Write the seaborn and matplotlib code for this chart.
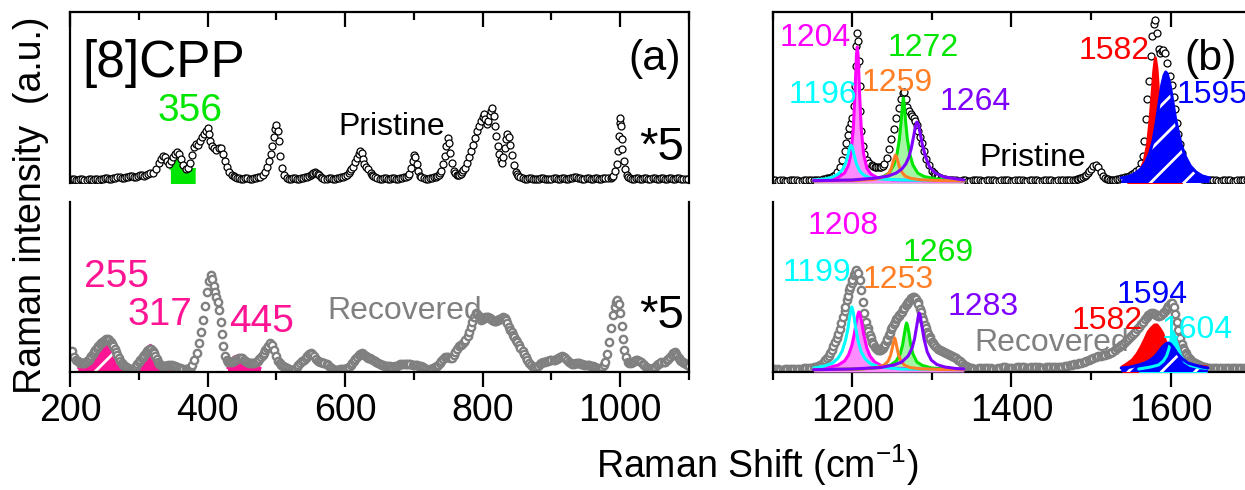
import matplotlib
matplotlib.use('Agg')
import matplotlib.pyplot as plt
import seaborn as sns

# ---------------- data (Raman shift, intensity in arbitrary units) ----------------
pristine_low = [(200,1),(203,2),(206,2),(209,1),(212,1),(215,2),(218,2),(221,1),(224,1),(227,2),(230,2),(233,1),
    (236,2),(239,2),(242,1),(245,2),(248,2),(251,3),(254,3),(257,2),(260,2),(263,3),(266,3),(269,4),
    (272,4),(275,3),(278,3),(281,4),(284,4),(287,5),(290,5),(293,4),(296,4),(299,5),(302,6),(305,6),(308,5),(311,6),
    (314,7),(317,8),(320,8),(325,12),(329,18),(332,22),(335,25),
    (338,24),(341,20),(344,17),(347,20),(350,24),(353,27),(356,29),(359,27),(362,22),(365,16),(368,12),(371,13),
    (374,18),(377,26),(380,34),(383,37),(386,36),(389,40),(392,44),(395,47),(398,50),(400,53),(402,47),(404,40),
    (407,35),(410,33),(413,31),(416,33),(419,33),(422,27),(425,20),(428,14),(431,9),(435,6),(438,5),(440,4),(443,3),(446,3),
    (449,2),(452,2),(455,3),(458,3),(461,2),(464,2),(467,3),(470,3),(473,4),(476,4),(480,6),(484,9),(487,14),(490,20),(492,27),(494,35),(496,44),(498,52),
    (500,56),(502,50),(504,40),(506,25),(508,13),(511,6),(515,3),(518,2),(521,2),(524,3),(527,3),(530,2),(533,2),(536,3),(539,3),(542,4),(545,4),(548,5),(550,6),
    (552,7),(554,8),(556,9),(558,8),(560,7),(562,6),(565,4),(567,3),(570,2),(573,2),(576,3),(579,3),(582,2),(585,2),(588,3),(591,3),(594,4),(597,4),(600,5),(603,6),(605,8),(607,10),(609,12),(611,14),(614,19),
    (617,23),(620,27),(622,30),(624,28),(626,22),(628,17),(631,14),(634,12),(637,8),(639,6),(641,5),(644,4),(647,3),(650,2),(653,2),
    (656,3),(659,3),(662,2),(665,2),(668,3),(671,3),(674,2),(677,2),(680,3),(683,3),(686,4),(689,4),(691,5),(693,7),(696,13),(698,20),(700,26),(702,24),(704,17),(706,10),
    (709,5),(711,4),(714,3),(717,2),(720,2),(723,3),(726,3),(729,4),(732,4),(734,5),(736,6),(738,8),(740,10),(743,17),(745,25),(747,35),(749,43),(751,38),
    (753,28),(755,18),(758,10),(760,8),(762,6),(764,6),(766,6),(768,7),(770,9),(772,11),(774,13),(777,18),(780,24),(783,30),(786,36),(789,43),
    (792,50),(795,55),(798,60),(800,64),(802,67),(804,62),(806,57),(808,60),(810,66),(812,70),(814,73),(816,65),
    (818,55),(820,45),(822,35),(824,27),(826,21),(828,18),(830,24),(832,33),(834,42),(836,47),(838,44),(840,36),
    (842,26),(845,16),(848,9),(850,7),(852,5),(855,4),(858,3),(861,2),(864,2),(867,3),(870,3),(873,2),(876,2),(879,2),(882,2),(885,3),(888,3),(891,2),(894,2),(897,2),(900,2),(903,3),(906,3),
    (909,2),(912,2),(915,3),(918,3),(921,2),(924,2),(927,3),(930,3),(933,4),(936,4),(939,3),(942,3),(945,2),(948,2),(951,3),(954,3),(957,2),(960,2),(963,3),(966,3),(969,2),(972,2),(975,3),(978,3),(982,3),
    (986,3),(988,4),(990,5),(993,10),(995,17),(997,30),(998,45),(999,58),(1000,63),(1001,55),(1002,42),(1003,32),
    (1005,20),(1007,12),(1010,6),(1012,4),(1014,3),(1017,2),(1020,2),(1023,3),(1026,3),(1029,2),(1032,2),(1035,3),(1038,3),(1041,2),(1044,2),(1047,3),(1050,3),(1053,2),(1056,2),
    (1059,3),(1062,3),(1065,2),(1068,2),(1071,3),(1074,3),(1077,2),(1080,2),(1083,3),(1086,3),(1089,2),(1092,2),(1095,2),(1098,2)]

recovered_low = [(200,15),(203,19),(206,13),(209,10),(211,9),(213,8),(215,7),(217,7),(219,7),(221,7),(223,8),(225,9),(227,10),(229,12),(231,14),(233,16),(235,18),(237,20),
    (239,22),(241,24),(243,26),(245,27),(247,28),(249,29),(251,30),(253,31),(255,31),(257,30),(259,28),(261,26),(263,24),(265,21),(267,18),(269,15),(271,12),(273,9),(275,7),(277,5),(280,4),(282,3),(285,2),(287,1),
    (290,1),(292,1),(294,2),(296,4),(298,6),(300,8),(302,10),(304,12),(306,13),(308,15),(310,17),(312,19),(314,20),(316,21),(318,21),(320,19),(322,17),(324,14),(326,11),(328,8),(330,6),(332,5),(334,4),(336,4),
    (338,4),(340,4),(343,5),(345,5),(348,5),(350,4),(353,4),(355,3),(358,2),(360,2),(363,1),(365,1),(368,1),(370,1),(372,1),(374,2),(376,3),(378,5),(381,10),(384,17),(387,27),(390,38),
    (393,50),(396,64),(399,78),(402,89),(405,95),(407,91),(409,84),(411,78),(413,73),(415,68),(417,60),(419,48),
    (421,36),(423,24),(426,14),(428,10),(430,8),(433,8),(435,8),(438,9),(440,10),(443,11),(445,12),(448,12),(450,12),(453,10),(455,9),(458,8),(460,7),(463,7),(465,7),(468,7),(470,8),(473,9),
    (475,11),(478,13),(480,15),(482,17),(484,20),(486,22),(488,24),(491,27),(494,25),(497,20),(500,14),(503,9),(505,7),(507,5),(510,4),(512,3),(515,2),(518,1),
    (521,0),(524,0),(527,1),(530,3),(532,5),(535,7),(538,9),(540,10),(543,12),(545,14),(548,16),(550,17),(552,16),(555,14),(558,11),(560,9),(563,8),(565,8),(568,7),(570,7),(573,6),(575,5),(578,3),(580,2),(583,1),(585,0),
    (588,0),(590,0),(593,1),(595,1),(598,1),(600,1),(603,2),(605,3),(608,5),(610,7),(613,9),(615,11),(618,13),(620,15),(622,16),(624,17),(626,16),(628,15),(630,14),(632,13),(634,12),(636,12),(638,11),(640,10),
    (643,9),(645,8),(648,7),(650,6),(653,5),(655,5),(658,4),(660,4),(663,4),(665,4),(668,3),(670,3),(673,4),(675,4),(678,5),(680,6),(683,6),(685,6),(688,6),(690,6),(693,6),(695,6),(698,5),(700,5),(703,5),(705,5),
    (708,4),(710,4),(713,3),(715,2),(718,1),(720,0),(723,1),(725,1),(728,2),(730,3),(733,4),(735,5),(738,7),(740,9),(743,11),(745,13),(748,13),(750,13),(753,12),(755,12),(758,15),(760,18),(763,21),(765,24),
    (768,25),(770,26),(773,28),(775,30),(778,34),(780,38),(783,43),(785,48),(788,53),(790,57),(792,56),(794,54),(796,52),(798,50),(800,51),(802,52),(804,53),(806,53),(808,53),(810,52),(812,51),(814,50),(816,49),(818,49),
    (820,49),(822,50),(824,51),(826,51),(828,52),(830,53),(832,52),(834,50),(836,47),(838,43),(840,40),(842,38),(844,35),(846,33),(848,30),(850,28),(853,25),(855,22),(858,19),(860,16),(863,13),(865,10),(868,7),(870,5),
    (873,3),(875,2),(878,3),(880,4),(883,6),(885,7),(888,8),(890,8),(893,9),(895,9),(898,10),(900,10),(903,10),(905,10),(908,11),(910,12),(913,13),(915,14),(918,13),(920,12),(923,10),(925,8),(928,7),(930,6),
    (933,6),(935,7),(938,7),(940,7),(943,6),(945,6),(948,5),(950,5),(953,5),(955,5),(958,4),(960,4),(963,3),(965,2),(968,1),(970,1),(972,2),(974,3),(976,5),(978,8),(981,16),(984,28),(987,42),
    (990,55),(992,63),(994,68),(996,70),(998,66),(1000,57),(1002,44),(1004,31),(1006,20),(1008,13),(1011,8),
    (1013,7),(1015,7),(1018,8),(1020,9),(1023,10),(1025,10),(1028,9),(1030,8),(1033,6),(1035,5),(1038,3),(1040,2),(1043,1),(1045,1),(1048,2),(1050,3),(1053,5),(1055,6),(1058,7),(1060,8),(1063,8),(1065,8),
    (1068,10),(1070,11),(1073,13),(1075,15),(1077,17),(1079,18),(1081,16),(1083,14),(1085,12),(1087,10),(1089,9),(1091,8),(1093,7),(1095,6),(1098,5),(1100,4)]

pristine_high = [(1100,1),(1103,1),(1106,0),(1109,1),(1112,1),(1115,0),(1118,0),(1121,1),(1124,1),(1127,1),(1130,1),(1133,0),(1136,0),(1139,1),(1142,1),(1145,1),(1148,1),(1151,1),(1154,1),(1157,1),
    (1160,1),(1163,2),(1165,2),(1168,3),(1170,3),(1172,3),(1174,4),(1176,5),(1178,6),(1181,9),(1184,14),(1187,21),(1190,30),(1192,38),(1194,46),
    (1196,53),(1198,58),(1200,63),(1202,75),(1203,95),(1204,115),(1205,135),(1206,148),(1207,140),(1208,120),
    (1209,95),(1210,70),(1211,50),(1213,35),(1215,27),(1218,21),(1221,18),(1224,16),(1226,15),(1228,14),(1230,14),(1232,14),(1234,14),
    (1236,14),(1238,15),(1240,17),(1243,23),(1246,32),(1249,42),(1252,52),(1255,63),(1258,73),(1261,82),(1263,88),
    (1265,89),(1267,82),(1269,74),(1271,70),(1273,67),(1275,65),(1277,63),(1279,60),(1281,56),(1283,50),
    (1285,44),(1287,38),(1290,30),(1293,22),(1296,16),(1300,10),(1302,8),(1304,6),(1306,5),(1308,4),(1311,3),(1313,2),(1316,2),(1318,1),(1321,1),(1324,1),(1327,1),
    (1330,1),(1333,0),(1336,0),(1339,1),(1342,1),(1345,0),(1348,0),(1351,1),(1354,1),(1357,1),(1360,1),(1363,0),(1366,0),(1369,1),(1372,1),(1375,1),(1378,1),(1381,0),(1384,0),(1387,1),(1390,1),(1393,1),(1396,1),
    (1399,0),(1402,0),(1405,1),(1408,1),(1411,1),(1414,1),(1417,0),(1420,0),(1423,1),(1426,1),(1429,1),(1432,1),(1435,0),(1438,0),(1441,1),(1444,1),(1447,1),(1450,1),(1453,0),(1456,0),(1459,1),(1462,1),(1465,1),(1468,1),
    (1471,1),(1474,1),(1477,1),(1480,1),(1482,2),(1484,2),(1486,3),(1488,3),(1490,4),(1492,5),(1494,6),(1496,8),(1498,10),(1500,12),(1503,15),(1506,16),(1509,14),(1512,9),
    (1515,5),(1518,3),(1520,2),(1522,2),(1524,1),(1526,1),(1528,1),(1530,1),(1533,2),(1535,2),(1538,3),(1540,3),(1543,4),(1545,4),(1548,5),(1550,6),(1552,7),(1554,8),(1557,10),
    (1560,12),(1563,18),(1565,25),(1567,40),(1569,62),(1571,82),(1573,100),(1575,125),(1577,145),(1579,157),
    (1581,161),(1583,148),(1585,132),(1587,128),(1589,130),(1591,131),(1593,128),(1596,118),(1599,105),
    (1602,96),(1604,84),(1606,72),(1608,58),(1610,47),(1612,37),(1614,28),(1617,19),(1620,14),(1622,11),(1625,8),(1627,6),
    (1630,5),(1633,4),(1636,3),(1639,2),(1642,2),(1645,1),(1648,1),(1651,1),(1654,1),(1657,1),(1660,0),(1663,0),(1666,1),(1669,1),(1672,1),(1675,1),(1678,0),(1681,0),(1684,1),(1687,1),(1690,1),(1693,1),(1696,1)]

recovered_high = [(1100,1),(1103,1),(1106,1),(1109,0),(1112,0),(1115,1),(1118,1),(1121,1),(1124,1),(1127,1),(1130,1),(1133,1),(1136,1),(1139,2),(1142,2),(1145,2),(1148,2),(1151,3),(1154,3),
    (1157,4),(1159,5),(1162,6),(1164,8),(1166,10),(1168,12),(1170,14),(1172,17),(1174,20),(1176,24),(1178,28),(1180,32),(1182,36),(1184,41),(1186,47),(1188,53),(1190,59),(1191,63),(1193,70),(1194,74),(1196,80),(1197,83),
    (1199,87),(1200,90),(1202,95),(1203,97),(1205,100),(1207,97),(1209,90),(1211,80),(1213,68),(1215,57),(1217,48),(1219,42),(1220,39),(1222,35),
    (1223,32),(1225,28),(1226,26),(1228,23),(1229,22),(1231,21),(1232,20),(1234,20),(1235,20),(1237,21),(1238,22),(1240,24),(1241,26),(1243,29),(1244,31),(1246,35),(1247,37),(1249,41),(1250,43),
    (1252,46),(1253,48),(1255,51),(1256,52),(1258,54),(1259,55),(1261,57),(1262,58),(1264,61),(1265,62),(1267,65),(1268,66),(1270,68),(1271,69),(1273,71),(1274,72),(1276,73),(1277,73),(1279,72),(1280,71),
    (1282,68),(1283,66),(1285,61),(1286,58),(1288,53),(1289,50),(1291,45),(1292,42),(1294,38),(1295,36),(1297,33),(1298,31),(1300,28),(1301,27),(1303,25),(1305,23),(1308,21),(1310,20),(1313,19),(1315,18),
    (1318,17),(1320,16),(1323,15),(1325,14),(1328,13),(1330,12),(1333,10),(1335,9),(1338,7),(1340,5),(1343,4),(1345,3),(1348,2),(1350,2),(1353,1),(1356,1),(1359,2),(1362,2),(1365,2),(1368,2),(1371,2),(1374,2),
    (1377,1),(1380,1),(1383,2),(1386,2),(1389,3),(1392,3),(1395,2),(1398,2),(1401,2),(1404,2),(1407,3),(1410,3),(1413,3),(1416,3),(1419,2),(1422,2),(1425,3),(1428,3),(1431,3),(1434,3),(1437,2),(1440,2),
    (1443,3),(1446,3),(1449,3),(1452,3),(1455,3),(1458,3),(1461,3),(1464,3),(1467,4),(1470,4),(1473,5),(1476,5),(1479,6),(1482,6),(1485,7),(1488,7),(1491,8),(1494,9),(1497,10),(1500,11),(1503,12),(1506,13),
    (1509,14),(1512,14),(1515,15),(1518,15),(1521,16),(1524,17),(1527,18),(1530,20),(1533,22),(1535,23),(1538,25),(1540,26),(1543,28),(1545,30),(1548,32),(1550,34),(1553,36),(1555,38),(1558,41),(1560,43),
    (1563,46),(1565,48),(1568,51),(1570,53),(1572,55),(1574,56),(1576,57),(1578,57),(1580,56),(1582,55),(1584,54),(1586,54),(1588,55),(1590,57),(1592,58),(1594,60),(1596,62),(1597,64),(1599,66),(1600,67),
    (1602,67),(1604,63),(1606,56),(1608,48),(1610,40),(1612,32),(1614,26),(1616,22),(1617,20),(1619,17),(1620,15),(1622,13),(1624,11),(1626,9),
    (1628,8),(1631,7),(1633,6),(1636,5),(1638,4),(1641,3),(1644,3),(1647,2),(1650,2),(1653,2),(1656,2),(1659,2),(1662,2),(1665,2),(1668,2),(1671,2),(1674,2),(1677,2),(1680,2),(1683,2),(1686,2),(1689,2),
    (1692,2),(1695,2),(1698,2)]

# fitted components
fit_356 = [(346,12),(348,14),(351,17),(354,24),(356,29),(358,31),(360,27),(363,20),(367,15),(372,13),(377,12),(382,12)]
fit_255 = [(212,2),(220,5),(228,10),(236,17),(242,24),(248,30),(252,33),(256,33),(260,29),(266,21),(272,13),
           (278,7),(284,3),(290,1)]
fit_317 = [(282,1),(290,3),(298,7),(304,12),(309,18),(313,23),(317,25),(321,22),(325,14),(330,8),(336,6),
           (342,6),(350,5),(358,4),(364,1)]
fit_445 = [(429,2),(433,9),(438,13),(442,14),(446,15),(450,13),(455,10),(460,8),(466,6),(472,4),(477,2)]

p_1196 = [(1151,1),(1165,2),(1175,4),(1182,7),(1187,11),(1191,17),(1194,25),(1196,32),(1198,36),(1200,33),
          (1202,26),(1205,17),(1209,10),(1214,6),(1222,3),(1235,2),(1260,1),(1300,0.5),(1340,0.3)]
p_1204 = [(1151,0.7),(1170,1.6),(1182,3.6),(1190,8),(1195,16),(1198,27),(1201,52),(1203,86),(1205,126),
          (1206,134),(1207,126),(1209,86),(1211,52),(1214,27),(1218,13),(1223,7),(1232,3),(1250,1.1),
          (1290,0.4),(1340,0.2)]
p_1259 = [(1151,0.2),(1200,0.5),(1225,1.5),(1235,3),(1242,5),(1246,8),(1249,13),(1251,19),(1253,24),(1254,26),
          (1255,25),(1257,20),(1259,14),(1262,9),(1266,5),(1273,2.7),(1285,1.2),(1305,0.5),(1340,0.2)]
p_1272 = [(1151,0.3),(1200,0.8),(1225,2),(1238,4),(1246,8),(1252,16),(1256,27),(1259,42),(1261,58),(1263,77),
          (1264,83),(1265,77),(1267,58),(1269,42),(1272,27),(1276,16),(1282,8),(1290,4.5),(1305,2),(1340,0.3)]
p_1264 = [(1151,0.3),(1200,1),(1230,3),(1245,5),(1255,8),(1262,12),(1267,17),(1271,24),(1274,33),(1277,45),
          (1279,54),(1281,59),(1283,56),(1285,48),(1288,36),(1292,24),(1297,14),(1304,8),(1315,4),(1340,1)]
p_1582 = [(1545,2),(1555,5),(1562,10),(1567,20),(1571,36),(1574,58),(1577,88),(1579,110),(1581,123),
          (1583,112),(1585,88),(1588,55),(1592,28),(1597,13),(1605,6),(1615,3)]
p_1595 = [(1538,3),(1545,4),(1552,6),(1558,9),(1564,13),(1569,19),(1574,28),(1578,40),(1582,58),(1586,80),
          (1589,96),(1592,106),(1594,109),(1596,107),(1599,98),(1602,84),(1606,64),(1610,48),(1614,35),
          (1619,24),(1625,15),(1632,9),(1640,5),(1649,3)]

r_1199 = [(1151,2),(1165,4),(1175,7),(1182,12),(1187,19),(1191,29),(1194,40),(1196,51),(1198,60),(1199,63),
          (1200,61),(1202,53),(1204,42),(1207,29),(1211,18),(1216,11),(1223,6),(1235,3),(1260,1),(1300,0.5),
          (1340,0.3)]
r_1208 = [(1151,1),(1170,2.5),(1182,5),(1190,9),(1195,15),(1199,24),(1202,35),(1205,49),(1207,56),(1208,58),
          (1209,57),(1211,50),(1214,36),(1218,22),(1222,14),(1228,8),(1236,4.5),(1250,2),(1280,0.8),(1340,0.3)]
r_1253 = [(1151,0.3),(1210,1),(1230,2.5),(1240,5),(1245,9),(1248,15),(1250,22),(1252,29),(1253,32),(1254,30),
          (1256,22),(1258,15),(1261,9),(1265,5),(1272,2.5),(1285,1.2),(1310,0.5),(1340,0.3)]
r_1269 = [(1151,0.3),(1210,1),(1235,2.5),(1248,5),(1255,9),(1260,16),(1263,25),(1265,35),(1267,44),(1268,47),
          (1269,45),(1271,37),(1273,26),(1276,16),(1281,8),(1288,4.5),(1300,2),(1320,0.8),(1340,0.4)]
r_1283 = [(1151,0.3),(1200,1),(1235,2.5),(1252,5),(1262,8),(1270,14),(1275,22),(1278,31),(1281,45),(1283,55),
          (1284,57),(1285,55),(1287,45),(1290,31),(1294,18),(1299,10),(1306,5.5),(1316,3),(1330,1.5),(1340,1)]
r_1582 = [(1539,3),(1545,6),(1552,10),(1558,16),(1563,23),(1568,31),(1572,38),(1576,42),(1580,45),(1583,45),
          (1586,42),(1590,37),(1594,28),(1598,21),(1603,14),(1610,9),(1620,6),(1632,4),(1646,3)]
r_1604 = [(1560,1),(1575,3),(1585,5),(1591,9),(1595,14),(1598,21),(1600,28),(1602,35),(1603,38),(1604,37),
          (1606,32),(1609,24),(1613,14),(1618,8),(1625,4.5),(1635,2.5),(1646,1.5)]
r_1594 = [(1538,2),(1550,3),(1560,5),(1568,7),(1575,10),(1581,14),(1586,19),(1590,23),(1594,26),(1597,27),
          (1600,26),(1604,22),(1609,16),(1615,11),(1622,7),(1630,5),(1640,3),(1647,2)]

ticks_low = [200, 400, 600, 800, 1000]
ticks_high = [1200, 1400, 1600]

# ---------------- style ----------------
sns.set_style('white')
plt.rcParams['font.family'] = ['Liberation Sans', 'DejaVu Sans']
plt.rcParams['mathtext.fontset'] = 'custom'
plt.rcParams['mathtext.rm'] = 'Liberation Sans'
plt.rcParams['mathtext.it'] = 'Liberation Sans:italic'
plt.rcParams['hatch.linewidth'] = 2.0
plt.rcParams['axes.linewidth'] = 1.6
plt.rcParams['text.color'] = 'black'
plt.rcParams['xtick.color'] = 'black'
plt.rcParams['xtick.labelcolor'] = 'black'

CYAN, MAG, ORA, GRN, PUR = '#00FFFF', '#FF00FF', '#FF7F27', '#00E600', '#8000FF'
RED, BLU, PINK, GRAY = '#FF0000', '#0000FF', '#FF1493', '#808080'
LIGHT_MAG, LIGHT_GRN = '#FF8CFF', '#A6F5A6'

W, H = 1245, 490
fig = plt.figure(figsize=(W / 100, H / 100), dpi=100)


def add_ax(l, t, r, b):
    return fig.add_axes([l / W, 1 - b / H, (r - l) / W, (b - t) / H])


ax_tl = add_ax(70, 12, 689, 183)
ax_bl = add_ax(70, 202, 689, 372)
ax_tr = add_ax(773, 12, 1250, 183)
ax_br = add_ax(773, 202, 1250, 372)


def xy(pairs):
    xs, ys = zip(*pairs)
    return list(xs), list(ys)


def spectrum(ax, pairs, edge, s=25, lw=0.9, z=2):
    xs, ys = xy(pairs)
    sns.scatterplot(x=xs, y=ys, ax=ax, s=s, marker='o', color='white', edgecolor=edge,
                    linewidth=lw, legend=False, zorder=z)


def comp(ax, pairs, color, fill=None, base=-3, hatch=None, line=True, z=4, lw=2.2):
    xs, ys = xy(pairs)
    if fill is not None:
        if hatch:
            ax.fill_between(xs, ys, base, facecolor=fill, edgecolor='white', hatch=hatch,
                            linewidth=0, zorder=z - 0.5)
        else:
            ax.fill_between(xs, ys, base, color=fill, linewidth=0, zorder=z - 0.5)
    if line:
        sns.lineplot(x=xs, y=ys, ax=ax, color=color, linewidth=lw, sort=False,
                     estimator=None, zorder=z)


# ---- top left: pristine low frequency
comp(ax_tl, fit_356, GRN, fill=GRN, base=-4, z=1.5, lw=1.5)
spectrum(ax_tl, pristine_low, 'black', z=2)
# ---- bottom left: recovered low frequency
comp(ax_bl, fit_255, PINK, fill=PINK, base=-3, hatch='/', z=1.5, lw=1.8)
comp(ax_bl, fit_317, PINK, fill=PINK, base=-3, hatch='/', z=1.5, lw=1.8)
comp(ax_bl, fit_445, PINK, fill=PINK, base=-3, z=1.5, lw=1.8)
spectrum(ax_bl, recovered_low, GRAY, s=28, lw=1.7, z=2)

# ---- top right: pristine high frequency
spectrum(ax_tr, pristine_high, 'black', z=2)
comp(ax_tr, p_1272, GRN, fill=LIGHT_GRN, base=-4, z=3)
comp(ax_tr, p_1204, MAG, fill=LIGHT_MAG, base=-2, z=3.2)
comp(ax_tr, p_1196, CYAN, z=3.4)
comp(ax_tr, p_1259, ORA, z=3.6)
comp(ax_tr, p_1264, PUR, z=3.8)
comp(ax_tr, p_1582, RED, fill=RED, base=-4, z=4)
comp(ax_tr, p_1595, BLU, fill=BLU, base=-4, hatch='/', z=4.5)

# ---- bottom right: recovered high frequency
spectrum(ax_br, recovered_high, GRAY, s=28, lw=1.7, z=2)
comp(ax_br, r_1269, GRN, fill=LIGHT_GRN, base=-4, z=3)
comp(ax_br, r_1208, MAG, fill=LIGHT_MAG, base=-2, z=3.2)
comp(ax_br, r_1199, CYAN, z=3.4)
comp(ax_br, r_1253, ORA, z=3.6)
comp(ax_br, r_1283, PUR, z=3.8)
comp(ax_br, r_1582, RED, fill=RED, base=-3, z=4)
comp(ax_br, r_1604, CYAN, fill=CYAN, base=-3, z=4.2)
comp(ax_br, r_1594, BLU, fill=BLU, base=-3, hatch='/', z=4.5)

# ---------------- axes formatting ----------------
for ax, lo, hi, major, minor in [(ax_tl, 200, 1100, ticks_low, [300, 500, 700, 900, 1100]),
                                 (ax_bl, 200, 1100, ticks_low, [300, 500, 700, 900, 1100]),
                                 (ax_tr, 1100, 1700, ticks_high, [1100, 1300, 1500, 1700]),
                                 (ax_br, 1100, 1700, ticks_high, [1100, 1300, 1500, 1700])]:
    ax.set_xlim(lo, hi)
    ax.set_xticks(major)
    ax.set_xticks(minor, minor=True)
    ax.set_yticks([])
    ax.set_facecolor('none')
    ax.set_xlabel('')
    ax.set_ylabel('')
    for sp in ax.spines.values():
        sp.set_color('black')
        sp.set_linewidth(1.6)

for ax in (ax_tl, ax_tr):
    ax.set_ylim(-2, 169)
    ax.spines['bottom'].set_visible(False)
    ax.tick_params(axis='x', which='both', top=True, bottom=False, labeltop=False,
                   labelbottom=False, direction='in', width=1.6, color='black')
    ax.tick_params(axis='x', which='major', length=11)
    ax.tick_params(axis='x', which='minor', length=6)
for ax in (ax_bl, ax_br):
    ax.set_ylim(-2, 168)
    ax.spines['top'].set_visible(False)
    ax.tick_params(axis='x', which='both', top=False, bottom=True, labelbottom=True,
                   direction='out', width=1.6, labelsize=27, pad=4, color='black',
                   labelcolor='black')
    ax.tick_params(axis='x', which='major', length=11)
    ax.tick_params(axis='x', which='minor', length=6)
ax_tr.spines['right'].set_visible(False)
ax_br.spines['right'].set_visible(False)

# ---------------- texts ----------------
def t(ax, x, y, s, color='black', size=23, ha='center'):
    ax.text(x, y, s, color=color, fontsize=size, ha=ha, va='center', zorder=10)

t(ax_tl, 336, 118, '[8]CPP', size=37)
t(ax_tl, 1050, 122, '(a)', size=31)
t(ax_tl, 374, 70, '356', GRN, size=28)
t(ax_tl, 668, 54, 'Pristine', size=23)
t(ax_tl, 1060, 33, '*5', size=34)

t(ax_bl, 267, 93, '255', PINK, size=28)
t(ax_bl, 331, 55, '317', PINK, size=28)
t(ax_bl, 479, 48, '445', PINK, size=28)
t(ax_bl, 687, 59, 'Recovered', GRAY, size=23)
t(ax_bl, 1060, 54, '*5', size=34)

t(ax_tr, 1153, 143, '1204', MAG)
t(ax_tr, 1163, 86, '1196', CYAN)
t(ax_tr, 1256, 98, '1259', ORA)
t(ax_tr, 1289, 133, '1272', GRN)
t(ax_tr, 1354, 79, '1264', PUR)
t(ax_tr, 1529, 130, '1582', RED)
t(ax_tr, 1608, 86, '1595', BLU, ha='left')
t(ax_tr, 1651, 122, '(b)', size=31)
t(ax_tr, 1427, 23, 'Pristine', size=23)

t(ax_br, 1188, 144, '1208', MAG)
t(ax_br, 1155, 97, '1199', CYAN)
t(ax_br, 1308, 117, '1269', GRN)
t(ax_br, 1257, 90, '1253', ORA)
t(ax_br, 1364, 63, '1283', PUR)
t(ax_br, 1577, 75, '1594', BLU)
t(ax_br, 1520, 49, '1582', RED)
t(ax_br, 1633, 40, '1604', CYAN)
t(ax_br, 1450, 27, 'Recovered', GRAY)

fig.text(31 / W, 1 - 205 / H, 'Raman intensity  (a.u.)', rotation=90, ha='center', va='center', fontsize=27)
fig.text(757 / W, 1 - 465 / H, 'Raman Shift (cm$^{-1}$)', ha='center', va='center', fontsize=27)

fig.savefig('out.png', dpi=100)
